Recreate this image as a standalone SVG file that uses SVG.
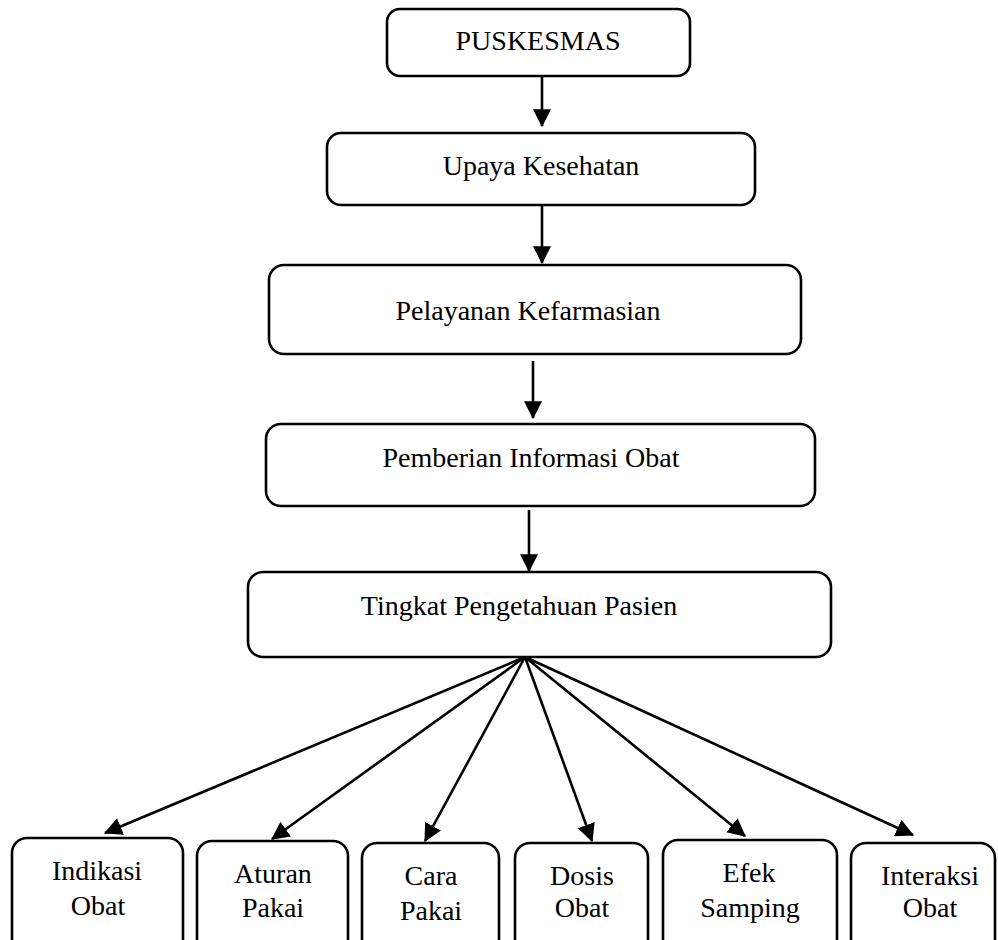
<svg xmlns="http://www.w3.org/2000/svg" width="998" height="940" viewBox="0 0 998 940">
<style>
.box{fill:#fff;stroke:#000;stroke-width:2.6}
.t{font-family:"Liberation Serif","Times New Roman",serif;font-size:28px;fill:#000;text-anchor:middle}
.c{stroke:#000;stroke-width:2.6;fill:none;marker-end:url(#ah)}
</style>
<defs>
<marker id="ah" markerUnits="userSpaceOnUse" markerWidth="18" markerHeight="18" viewBox="0 0 16 16" refX="15" refY="8" orient="auto">
<path d="M0,0 L16,8 L0,16 Z" fill="#000"/>
</marker>
</defs>
<rect width="998" height="940" fill="#fff"/>
<g id="connectors">
<line class="c" x1="542" y1="76" x2="542" y2="126"/>
<line class="c" x1="542" y1="205" x2="542" y2="263"/>
<line class="c" x1="533" y1="361" x2="533" y2="418"/>
<line class="c" x1="529" y1="510" x2="529" y2="571"/>
<line class="c" x1="525" y1="657" x2="105" y2="833"/>
<line class="c" x1="525" y1="657" x2="272" y2="839"/>
<line class="c" x1="525" y1="657" x2="425" y2="841"/>
<line class="c" x1="525" y1="657" x2="592" y2="841"/>
<line class="c" x1="525" y1="657" x2="745" y2="836"/>
<line class="c" x1="525" y1="657" x2="913" y2="835"/>
</g>
<g id="puskesmas"><rect class="box" x="387" y="9" width="303" height="67" rx="13"/><text class="t" x="538" y="50">PUSKESMAS</text></g>
<g id="upaya"><rect class="box" x="327" y="133" width="428" height="72" rx="14"/><text class="t" x="541" y="175">Upaya Kesehatan</text></g>
<g id="pelayanan"><rect class="box" x="269" y="265" width="532" height="89" rx="15"/><text class="t" x="528" y="320">Pelayanan Kefarmasian</text></g>
<g id="pemberian"><rect class="box" x="266" y="424" width="549" height="82" rx="15"/><text class="t" x="531" y="467">Pemberian Informasi Obat</text></g>
<g id="tingkat"><rect class="box" x="248" y="572" width="583" height="85" rx="15"/><text class="t" x="519" y="615">Tingkat Pengetahuan Pasien</text></g>
<g id="indikasi"><rect class="box" x="12" y="838" width="171" height="120" rx="15"/><text class="t" x="97" y="880">Indikasi</text><text class="t" x="98" y="915">Obat</text></g>
<g id="aturan"><rect class="box" x="197" y="841" width="151" height="120" rx="15"/><text class="t" x="273" y="883">Aturan</text><text class="t" x="273" y="917">Pakai</text></g>
<g id="cara"><rect class="box" x="362" y="843" width="137" height="120" rx="15"/><text class="t" x="431" y="885">Cara</text><text class="t" x="431" y="920">Pakai</text></g>
<g id="dosis"><rect class="box" x="515" y="843" width="133" height="120" rx="15"/><text class="t" x="582" y="885">Dosis</text><text class="t" x="582" y="917">Obat</text></g>
<g id="efek"><rect class="box" x="663" y="840" width="174" height="120" rx="15"/><text class="t" x="749" y="882">Efek</text><text class="t" x="750" y="917">Samping</text></g>
<g id="interaksi"><rect class="box" x="851" y="843" width="144" height="120" rx="15"/><text class="t" x="930" y="885">Interaksi</text><text class="t" x="930" y="917">Obat</text></g>
</svg>
